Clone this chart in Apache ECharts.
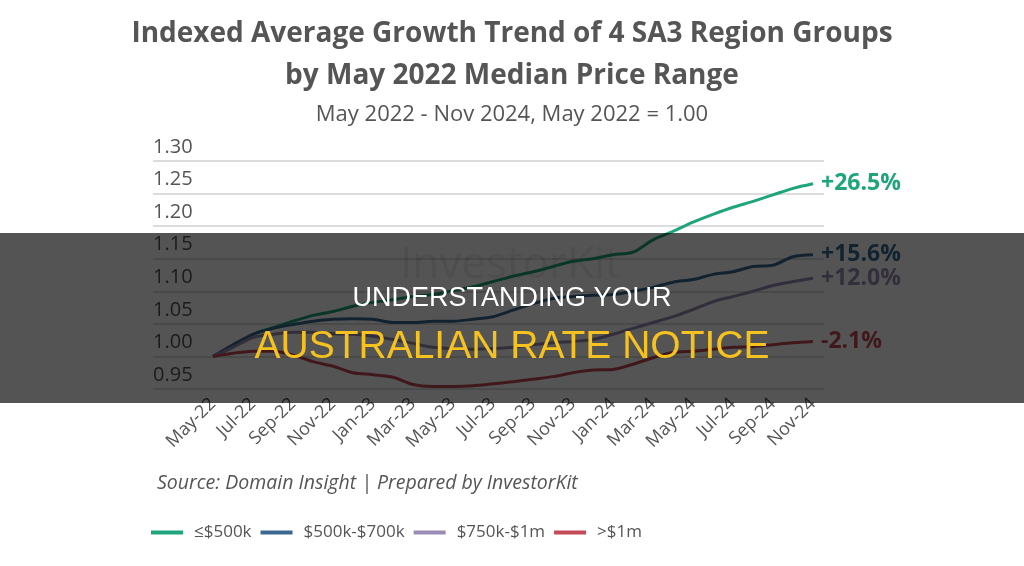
<!DOCTYPE html>
<html>
<head>
<meta charset="utf-8">
<script src="https://cdn.jsdelivr.net/npm/echarts@6/dist/echarts.min.js"></script>
<style>
  html, body { margin: 0; padding: 0; background: #fff; }
  #chart { width: 1024px; height: 566px; }
</style>
</head>
<body>
<div id="chart"></div>
<script>
// monthly, May-22 .. Nov-24
var months = ['May-22','Jun-22','Jul-22','Aug-22','Sep-22','Oct-22','Nov-22','Dec-22',
  'Jan-23','Feb-23','Mar-23','Apr-23','May-23','Jun-23','Jul-23','Aug-23','Sep-23','Oct-23',
  'Nov-23','Dec-23','Jan-24','Feb-24','Mar-24','Apr-24','May-24','Jun-24','Jul-24','Aug-24',
  'Sep-24','Oct-24','Nov-24'];

var seriesNames = ['≤$500k', '$500k-$700k', '$750k-$1m', '>$1m'];
var endLabels = ['+26.5%', '+15.6%', '+12.0%', '-2.1%'];
var colors = ['#1ea57b', '#3c6890', '#9a8cb5', '#c24b57'];

var under500 = [1.000, 1.015, 1.034, 1.044, 1.054, 1.063, 1.069, 1.077, 1.083, 1.087,
  1.092, 1.095, 1.101, 1.107, 1.115, 1.123, 1.130, 1.138, 1.146, 1.150, 1.156, 1.160,
  1.179, 1.192, 1.206, 1.218, 1.229, 1.238, 1.248, 1.258, 1.265];
var from500to700 = [1.000, 1.018, 1.034, 1.043, 1.049, 1.054, 1.057, 1.058, 1.057, 1.052,
  1.052, 1.054, 1.054, 1.057, 1.061, 1.071, 1.081, 1.089, 1.092, 1.094, 1.095, 1.100,
  1.106, 1.114, 1.118, 1.126, 1.130, 1.138, 1.140, 1.153, 1.156];
var from750to1m = [1.000, 1.014, 1.029, 1.034, 1.037, 1.037, 1.035, 1.034, 1.031, 1.026,
  1.020, 1.014, 1.012, 1.011, 1.012, 1.014, 1.018, 1.021, 1.023, 1.026, 1.034, 1.043,
  1.052, 1.061, 1.072, 1.084, 1.092, 1.100, 1.109, 1.115, 1.120];
var over1m = [1.000, 1.005, 1.008, 1.008, 1.002, 0.992, 0.985, 0.975, 0.972, 0.968,
  0.957, 0.954, 0.954, 0.955, 0.958, 0.961, 0.965, 0.969, 0.975, 0.979, 0.980, 0.988,
  0.998, 1.006, 1.008, 1.011, 1.014, 1.015, 1.018, 1.021, 1.023];

var yMin = 0.95, yMax = 1.30, yStep = 0.05;
var font = '"Open Sans", "Noto Sans", sans-serif';

var chart = echarts.init(document.getElementById('chart'));

var allData = [under500, from500to700, from750to1m, over1m];
var series = allData.map(function (d, i) {
  return {
    name: seriesNames[i],
    type: 'line',
    xAxisIndex: 1,
    yAxisIndex: 1,
    data: d,
    smooth: 0.3,
    showSymbol: false,
    lineStyle: { width: 3, color: colors[i] },
    itemStyle: { color: colors[i] },
    endLabel: {
      show: true,
      formatter: endLabels[i],
      color: colors[i],
      fontFamily: font,
      fontWeight: 'bold',
      fontSize: 23,
      distance: 8
    }
  };
});

var option = {
  backgroundColor: '#fff',
  animation: false,
  title: [{
    text: 'Indexed Average Growth Trend of 4 SA3 Region Groups\nby May 2022 Median Price Range',
    left: 'center',
    top: 8,
    textStyle: { fontFamily: font, fontWeight: 'bold', fontSize: 28, lineHeight: 42, color: '#555' }
  }, {
    text: 'May 2022 - Nov 2024, May 2022 = 1.00',
    left: 'center',
    top: 99,
    textStyle: { fontFamily: font, fontWeight: 'normal', fontSize: 22, color: '#555' }
  }],
  legend: {
    data: seriesNames,
    left: 146,
    top: 519,
    icon: 'rect',
    itemWidth: 32,
    itemHeight: 4,
    itemGap: 9,
    textStyle: { fontFamily: font, fontSize: 17, color: '#555', padding: [0, 0, 0, 6] }
  },
  grid: [
    { left: 153, right: 200, top: 161, bottom: 177 },
    { left: 213, right: 211, top: 161, bottom: 177 }
  ],
  xAxis: [{
    gridIndex: 0, type: 'category', data: months, show: false
  }, {
    gridIndex: 1,
    type: 'category',
    data: months,
    boundaryGap: false,
    axisLine: { show: false },
    axisTick: { show: false },
    axisLabel: {
      interval: 1,
      rotate: 45,
      margin: 12,
      fontFamily: font,
      fontSize: 18,
      color: '#555'
    }
  }],
  yAxis: [{
    gridIndex: 0,
    type: 'value',
    min: yMin,
    max: yMax,
    interval: yStep,
    axisLine: { show: false },
    axisTick: { show: false },
    splitLine: { lineStyle: { color: '#dcdcdc', width: 2 } },
    axisLabel: {
      inside: true,
      margin: 0,
      verticalAlign: 'bottom',
      padding: [0, 0, 4, 0],
      fontFamily: font,
      fontSize: 20,
      color: '#555',
      formatter: function (v) { return v.toFixed(2); }
    }
  }, {
    gridIndex: 1,
    type: 'value',
    min: yMin,
    max: yMax,
    interval: yStep,
    show: false,
    splitLine: { show: false }
  }],
  graphic: [{
    type: 'text',
    left: 400,
    top: 243,
    z: 1,
    style: { text: 'InvestorKit', font: '44px "Open Sans", sans-serif', fill: 'rgba(0,0,0,0.08)' }
  }, {
    type: 'text',
    left: 157,
    top: 473,
    style: { text: 'Source: Domain Insight | Prepared by InvestorKit', font: 'italic 19.5px "Open Sans", sans-serif', fill: '#555' }
  }, {
    type: 'rect',
    left: 0,
    top: 233,
    z: 100,
    shape: { width: 1024, height: 170 },
    style: { fill: 'rgba(0,0,0,0.67)' }
  }, {
    type: 'text',
    left: 'center',
    top: 285,
    z: 101,
    style: { text: 'UNDERSTANDING YOUR', font: '27px "Liberation Sans", Arial, sans-serif', fill: '#ffffff' }
  }, {
    type: 'text',
    left: 'center',
    top: 328,
    z: 101,
    style: { text: 'AUSTRALIAN RATE NOTICE', font: '39px "Liberation Sans", Arial, sans-serif', fill: '#f5c21f' }
  }],
  series: series
};

chart.setOption(option);
</script>
</body>
</html>
